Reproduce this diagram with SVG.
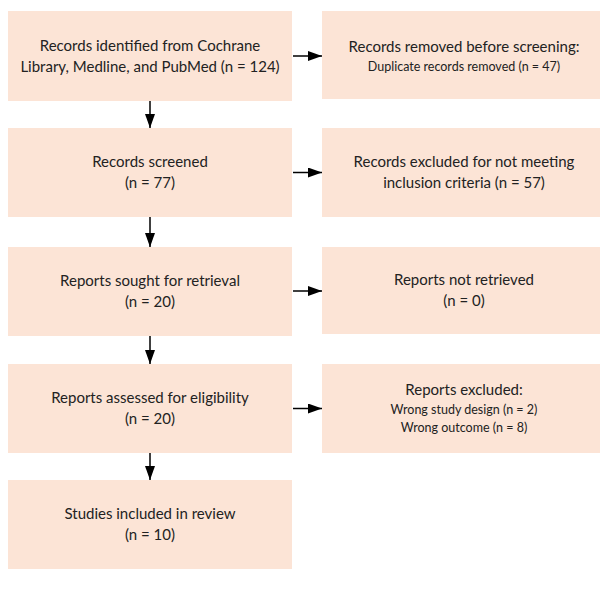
<svg xmlns="http://www.w3.org/2000/svg" width="600" height="590" viewBox="0 0 600 590">
<defs>
<style>
.box{fill:#FCE4D6;}
.t{font-family:Lato,"Liberation Sans",sans-serif;font-size:15px;fill:#222;text-anchor:middle;}
.s{font-family:Lato,"Liberation Sans",sans-serif;font-size:12.5px;fill:#222;text-anchor:middle;}
.c{stroke:#000;stroke-width:1.5;fill:none;}
</style>
<marker id="ah" viewBox="0 0 14 10" refX="14" refY="5" markerWidth="14" markerHeight="10" markerUnits="userSpaceOnUse" orient="auto">
<path d="M0,0 L14,5 L0,10 Z" fill="#000"/>
</marker>
</defs>
<rect width="600" height="590" fill="#fff"/>
<g id="n1">
<rect class="box" x="8" y="11" width="284" height="90"/>
<text class="t" x="150" y="51">Records identified from Cochrane</text>
<text class="t" x="150" y="72">Library, Medline, and PubMed (n = 124)</text>
</g>
<g id="n2">
<rect class="box" x="322" y="11" width="284" height="88"/>
<text class="t" x="464" y="52">Records removed before screening:</text>
<text class="s" x="464" y="71">Duplicate records removed (n = 47)</text>
</g>
<g id="n3">
<rect class="box" x="8" y="128" width="284" height="89"/>
<text class="t" x="150" y="167">Records screened</text>
<text class="t" x="150" y="188">(n = 77)</text>
</g>
<g id="n4">
<rect class="box" x="322" y="128" width="284" height="89"/>
<text class="t" x="464" y="167">Records excluded for not meeting</text>
<text class="t" x="464" y="188">inclusion criteria (n = 57)</text>
</g>
<g id="n5">
<rect class="box" x="8" y="247" width="284" height="89"/>
<text class="t" x="150" y="286">Reports sought for retrieval</text>
<text class="t" x="150" y="307">(n = 20)</text>
</g>
<g id="n6">
<rect class="box" x="322" y="247" width="284" height="87"/>
<text class="t" x="464" y="285">Reports not retrieved</text>
<text class="t" x="464" y="306">(n = 0)</text>
</g>
<g id="n7">
<rect class="box" x="8" y="364" width="284" height="89"/>
<text class="t" x="150" y="403">Reports assessed for eligibility</text>
<text class="t" x="150" y="424">(n = 20)</text>
</g>
<g id="n8">
<rect class="box" x="322" y="364" width="284" height="89"/>
<text class="t" x="464" y="395">Reports excluded:</text>
<text class="s" x="464" y="414">Wrong study design (n = 2)</text>
<text class="s" x="464" y="432">Wrong outcome (n = 8)</text>
</g>
<g id="n9">
<rect class="box" x="8" y="480" width="284" height="89"/>
<text class="t" x="150" y="519">Studies included in review</text>
<text class="t" x="150" y="540">(n = 10)</text>
</g>
<g id="connectors">
<line class="c" x1="293" y1="56" x2="322" y2="56" marker-end="url(#ah)"/>
<line class="c" x1="293" y1="172.5" x2="322" y2="172.5" marker-end="url(#ah)"/>
<line class="c" x1="293" y1="291" x2="322" y2="291" marker-end="url(#ah)"/>
<line class="c" x1="293" y1="408.5" x2="322" y2="408.5" marker-end="url(#ah)"/>
<line class="c" x1="150" y1="101" x2="150" y2="128" marker-end="url(#ah)"/>
<line class="c" x1="150" y1="217" x2="150" y2="247" marker-end="url(#ah)"/>
<line class="c" x1="150" y1="336" x2="150" y2="364" marker-end="url(#ah)"/>
<line class="c" x1="150" y1="453" x2="150" y2="480" marker-end="url(#ah)"/>
</g>
</svg>
